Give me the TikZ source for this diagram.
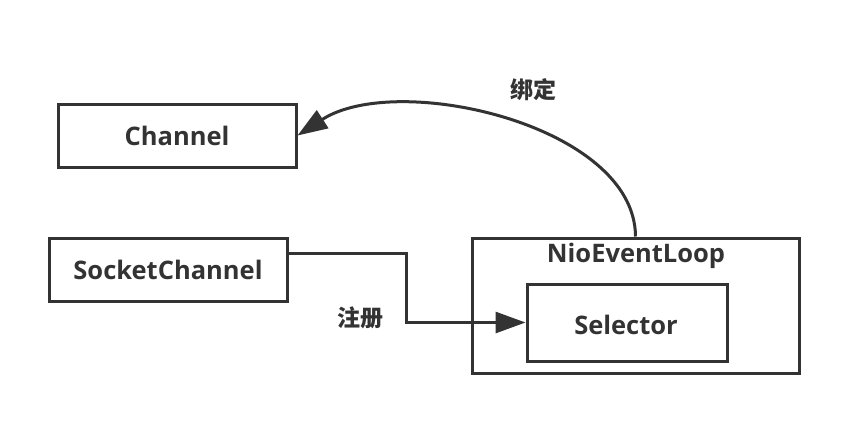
\documentclass[tikz,border=0pt]{standalone}
\usepackage{fontspec}
\setmainfont{Open Sans}
\newfontfamily\cjk{Noto Sans CJK SC}
\usetikzlibrary{arrows.meta}
\definecolor{ink}{HTML}{333333}
\begin{document}
\begin{tikzpicture}[x=1pt,y=-1pt,
  box/.style={draw=ink,line width=3pt,fill=white,inner sep=0pt,text=ink},
  lbl/.style={text=ink,inner sep=0pt,font=\fontsize{25.5}{30}\selectfont\bfseries},
  clbl/.style={text=ink,inner sep=0pt,font=\cjk\fontsize{23}{28}\selectfont\bfseries},
  conn/.style={draw=ink,line width=3pt,-{Triangle[length=30pt,width=21pt]}}]
\useasboundingbox (0,0) rectangle (850,424);
\fill[white] (0,0) rectangle (850,424);
\node[box,minimum width=238pt,minimum height=63pt] (ch) at (177,135.5) {};
\node[lbl] (chl) at (177,136) {Channel};
\node[box,minimum width=238pt,minimum height=63pt] (sc) at (168,269.5) {};
\node[lbl] (scl) at (168,270) {SocketChannel};
\node[box,minimum width=327pt,minimum height=135pt] (nio) at (635.5,305.5) {};
\node[lbl] (niol) at (636,256) {NioEventLoop};
\node[box,minimum width=200pt,minimum height=77pt] (sel) at (627,322.5) {};
\node[lbl] (sell) at (626,325) {Selector};
\coordinate (scout) at (287,253);
\draw[conn] (scout) -- ++(119,0) |- (sel.west);
\draw[conn] (nio.north) .. controls (635,125) and (397,71) .. (ch.east);
\node[clbl] (bd) at (533,90) {绑定};
\node[clbl] (zc) at (360,318) {注册};
\end{tikzpicture}
\end{document}
